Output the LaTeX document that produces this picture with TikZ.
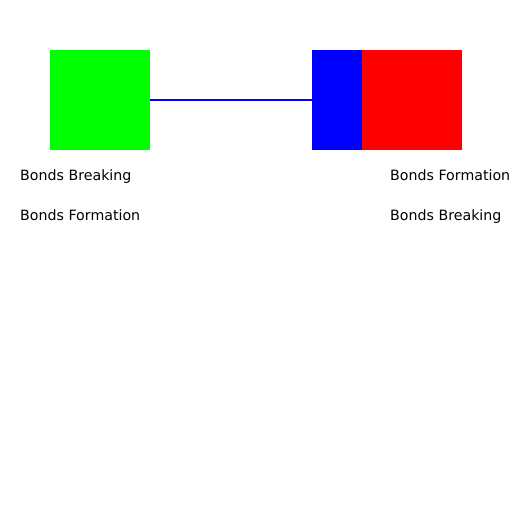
\documentclass[tikz,border=0pt]{standalone}
\usepackage{fontspec}
\setmainfont{DejaVu Sans}
\usetikzlibrary{positioning}

\begin{document}
\begin{tikzpicture}[
		x=1pt,
		y=-1pt,
		block/.style={
			draw=none,
			inner sep=0pt,
			outer sep=0pt,
			minimum height=100pt,
			anchor=north west
		},
		caption/.style={
			anchor=base west,
			inner sep=0pt,
			font=\fontsize{14.2}{16}\selectfont
		},
		bond/.style={
			draw=blue,
			line width=2.6pt
		}
		]
		
		% canvas
		\useasboundingbox (0,0) rectangle (512,512);
		
		% blocks
		\node[block,fill=green,minimum width=100pt] (react) at (50,50) {};
		\node[block,fill=blue,minimum width=50pt]   (mid)   at (312,50) {};
		\node[block,fill=red,minimum width=100pt]   (prod)  at (362,50) {};
		
		% connector
		\draw[bond] (react.east) -- (mid.west);
		
		% captions
		\node[caption] (lbreak) at (20,180) {Bonds Breaking};
		\node[caption] (lform)  at (20,220) {Bonds Formation};
		
		\node[caption] (rform)  at (390,180) {Bonds Formation};
		\node[caption] (rbreak) at (390,220) {Bonds Breaking};
	\end{tikzpicture}
\end{document}
